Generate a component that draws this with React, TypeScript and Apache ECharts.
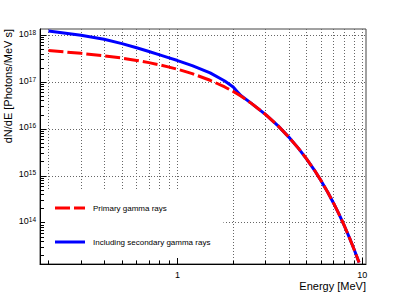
import React, { useEffect, useRef } from "react";
import * as echarts from "echarts";

// Energy grid [MeV]
const energy = [
  0.2, 0.3, 0.4, 0.5, 0.6, 0.7, 0.8, 0.9, 1.0, 1.2, 1.5, 1.8, 2.0, 2.1, 2.2,
  2.5, 3.0, 3.5, 4.0, 4.5, 5.0, 5.5, 6.0, 6.5, 7.0, 7.5, 8.0, 8.5, 9.0, 9.5, 9.6,
];

// dN/dE [Photons/MeV s] — primary gamma rays
const primary = [
  4.68e17, 4.09e17, 3.63e17, 3.24e17, 2.89e17, 2.59e17, 2.32e17, 2.08e17,
  1.87e17, 1.51e17, 1.09e17, 7.85e16, 6.3e16, 5.64e16, 5.01e16, 3.55e16,
  2.02e16, 1.16e16, 6.7e15, 3.9e15, 2.28e15, 1.33e15, 7.71e14, 4.47e14,
  2.58e14, 1.49e14, 8.53e13, 4.89e13, 2.79e13, 1.59e13, 1.42e13,
];

// dN/dE [Photons/MeV s] — including secondary gamma rays
const including = [
  1.22e18, 9.93e17, 8.13e17, 6.58e17, 5.38e17, 4.48e17, 3.79e17, 3.27e17,
  2.87e17, 2.24e17, 1.57e17, 1.05e17, 7.82e16, 6.31e16, 5.15e16, 3.55e16,
  2.02e16, 1.16e16, 6.7e15, 3.9e15, 2.28e15, 1.33e15, 7.71e14, 4.47e14,
  2.58e14, 1.49e14, 8.53e13, 4.89e13, 2.79e13, 1.59e13, 1.42e13,
];

const seriesNames = ["Primary gamma rays", "Including secondary gamma rays"];

// Axis ranges
const X_RANGE = [0.18, 10.47];
const Y_RANGE = [1.32e13, 1.35e18];

// Tick positions
const xMajorTicks = [1, 10];
const xMinorTicks = [0.2, 0.3, 0.4, 0.5, 0.6, 0.7, 0.8, 0.9, 2, 3, 4, 5, 6, 7, 8, 9];
const yMajorTicks = [1e14, 1e15, 1e16, 1e17, 1e18];
const yMinorMantissas = [2, 3, 4, 5, 6, 7, 8, 9];
const yMinorDecades = [1e13, 1e14, 1e15, 1e16, 1e17];

const lg = Math.log10;
const FONT = "'Liberation Sans', Arial, Helvetica, sans-serif";

export default function App() {
  const ref = useRef<HTMLDivElement>(null);

  useEffect(() => {
    document.body.style.margin = "0";
    const chart = echarts.init(ref.current as HTMLDivElement, null, { renderer: "svg" });

    const xMin = lg(X_RANGE[0]);
    const xMax = lg(X_RANGE[1]);
    const yMin = lg(Y_RANGE[0]);
    const yMax = lg(Y_RANGE[1]);

    const yMinorTicks: number[] = [];
    yMinorDecades.forEach((d) => yMinorMantissas.forEach((m) => yMinorTicks.push(m * d)));

    const gridLine = { color: "#666", type: [1, 2], width: 1 };
    const black = { color: "#000", width: 1 };

    const option: any = {
      animation: false,
      backgroundColor: "#fff",
      grid: {
        left: 40,
        top: 29,
        width: 326,
        height: 235,
        show: true,
        borderColor: "#444",
        borderWidth: 1,
        backgroundColor: "transparent",
      },
      xAxis: [
        {
          type: "value",
          min: xMin,
          max: xMax,
          position: "bottom",
          axisLine: { show: true, onZero: false, lineStyle: black },
          axisTick: {
            show: true,
            inside: true,
            length: 6,
            customValues: xMajorTicks.map(lg),
            lineStyle: black,
          },
          axisLabel: {
            show: true,
            customValues: xMajorTicks.map(lg),
            formatter: (v: number) => String(Math.round(Math.pow(10, v))),
            fontSize: 9,
            lineHeight: 11,
            color: "#000",
            fontFamily: FONT,
            margin: 5,
          },
          splitLine: { show: false },
        },
        {
          type: "value",
          min: xMin,
          max: xMax,
          position: "bottom",
          axisLine: { show: false, onZero: false },
          axisTick: {
            show: true,
            inside: true,
            length: 3,
            customValues: [...xMinorTicks, ...xMajorTicks].map(lg),
            lineStyle: black,
          },
          axisLabel: { show: false },
          splitLine: { show: true, lineStyle: gridLine },
        },
      ],
      yAxis: [
        {
          type: "value",
          min: yMin,
          max: yMax,
          position: "left",
          axisLine: { show: true, onZero: false, lineStyle: black },
          axisTick: {
            show: true,
            inside: true,
            length: 6,
            customValues: yMajorTicks.map(lg),
            lineStyle: black,
          },
          axisLabel: {
            show: true,
            customValues: yMajorTicks.map(lg),
            formatter: (v: number) => `{a|10}{b|${Math.round(v)}}`,
            margin: 4,
            color: "#000",
            fontFamily: FONT,
            rich: {
              a: { fontSize: 9, lineHeight: 13, fontFamily: FONT, color: "#000", padding: [0, 0, 3, 0] },
              b: { fontSize: 6.5, lineHeight: 6, verticalAlign: "top", fontFamily: FONT, color: "#000" },
            },
          },
          splitLine: { show: true, lineStyle: gridLine },
        },
        {
          type: "value",
          min: yMin,
          max: yMax,
          position: "left",
          axisLine: { show: false, onZero: false },
          axisTick: {
            show: true,
            inside: true,
            length: 4,
            customValues: yMinorTicks.map(lg),
            lineStyle: black,
          },
          axisLabel: { show: false },
          splitLine: { show: false },
        },
      ],
      legend: {
        show: true,
        orient: "vertical",
        left: 45,
        top: 189,
        padding: [14, 13, 11, 10],
        backgroundColor: "#fff",
        itemWidth: 30,
        itemHeight: 3,
        itemGap: 24,
        selectedMode: false,
        textStyle: {
          fontSize: 8,
          lineHeight: 10,
          color: "#000",
          fontFamily: FONT,
          padding: [0, 0, 0, 3],
        },
        data: [
          {
            name: seriesNames[0],
            icon: "path://M0,0H15V3H0Z M19,0H30V3H19Z",
            itemStyle: { color: "#ff0000", borderWidth: 0 },
          },
          {
            name: seriesNames[1],
            icon: "path://M0,0H30V3H0Z",
            itemStyle: { color: "#0000ff", borderWidth: 0 },
          },
        ],
      },
      series: [
        {
          name: seriesNames[1],
          type: "line",
          xAxisIndex: 0,
          yAxisIndex: 0,
          data: energy.map((e, i) => [lg(e), lg(including[i])]),
          symbol: "none",
          showSymbol: false,
          smooth: false,
          color: "#0000ff",
          itemStyle: { color: "#0000ff" },
          lineStyle: { color: "#0000ff", width: 3, join: "round" },
          z: 2,
        },
        {
          name: seriesNames[0],
          type: "line",
          xAxisIndex: 0,
          yAxisIndex: 0,
          data: energy.map((e, i) => [lg(e), lg(primary[i])]),
          symbol: "none",
          showSymbol: false,
          smooth: false,
          color: "#ff0000",
          itemStyle: { color: "#ff0000" },
          lineStyle: { color: "#ff0000", width: 3, type: [15, 4], join: "round" },
          z: 3,
        },
      ],
      graphic: [
        {
          type: "text",
          x: 366,
          y: 286,
          style: {
            text: "Energy [MeV]",
            align: "right",
            verticalAlign: "middle",
            fontSize: 11,
            fontFamily: FONT,
            fill: "#000",
          },
        },
        {
          type: "text",
          x: 8,
          y: 29,
          rotation: Math.PI / 2,
          style: {
            text: "dN/dE [Photons/MeV s]",
            align: "right",
            verticalAlign: "middle",
            fontSize: 11,
            fontFamily: FONT,
            fill: "#000",
          },
        },
      ],
    };

    chart.setOption(option);
    return () => chart.dispose();
  }, []);

  return <div ref={ref} style={{ width: 407, height: 294 }} />;
}
